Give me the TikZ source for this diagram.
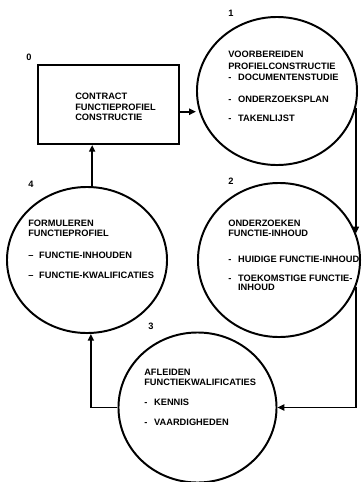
\documentclass[tikz,border=0pt]{standalone}
\usepackage{fontspec}
\setmainfont{Liberation Sans}
\usetikzlibrary{arrows.meta,shapes.geometric}
\newcommand\itm[1]{\makebox[7pt][l]{-}#1}
\newcommand\itmd[1]{\makebox[7.8pt][l]{–}#1}
\begin{document}
\begin{tikzpicture}[x=0.025cm,y=-0.025cm,
  proc/.style={draw, ellipse, line width=1.4pt, inner sep=0pt},
  boxnode/.style={draw, rectangle, line width=1.4pt, inner sep=0pt, minimum width=3.525cm, minimum height=1.975cm},
  txt/.style={anchor=north west, inner sep=0pt, align=left, font=\bfseries\fontsize{6.6}{7.45}\selectfont},
  lbl/.style={inner sep=0pt, font=\bfseries\fontsize{6.6}{7.45}\selectfont},
  arr/.style={line width=1.3pt, -{Triangle[length=4.8pt,width=4.3pt]}}]
\useasboundingbox (0,0) rectangle (362,482);
\fill[white] (0,0) rectangle (362,482);

\node[boxnode] (r0) at (108.5,104.5) {};
\node[txt] (t0) at (75,93) {CONTRACT\\FUNCTIEPROFIEL\\CONSTRUCTIE};

\node[proc, minimum width=4cm, minimum height=3.7cm] (c1) at (277,91) {};
\node[txt] (t1) at (228,51) {VOORBEREIDEN\\[1.07pt]PROFIELCONSTRUCTIE\\[0.36pt]\itm{DOCUMENTENSTUDIE}\\[8.2pt]\itm{ONDERZOEKSPLAN}\\[6pt]\itm{TAKENLIJST}};

\node[proc, minimum width=4.05cm, minimum height=3.85cm] (c2) at (279,260) {};
\node[txt] (t2) at (228,220) {ONDERZOEKEN\\[-0.36pt]FUNCTIE-INHOUD\\[11pt]\itm{HUIDIGE FUNCTIE-INHOUD}\\[6pt]\itm{TOEKOMSTIGE FUNCTIE-}\\[-1.07pt]\hspace*{7pt}INHOUD};

\node[proc, minimum width=4cm, minimum height=3.65cm] (c4) at (87,260) {};
\node[txt] (t4) at (28,220) {FORMULEREN\\[-0.36pt]FUNCTIEPROFIEL\\[8.2pt]\itmd{FUNCTIE-INHOUDEN}\\[6.75pt]\itmd{FUNCTIE-KWALIFICATIES}};

\node[proc, minimum width=3.95cm, minimum height=3.75cm] (c3) at (197.5,407.5) {};
\node[txt] (t3) at (144,369) {AFLEIDEN\\[-0.36pt]FUNCTIEKWALIFICATIES\\[6.75pt]\itm{KENNIS}\\[6.75pt]\itm{VAARDIGHEDEN}};

\node[lbl] (n0) at (29,57) {0};
\node[lbl] (n1) at (231,13) {1};
\node[lbl] (n2) at (231,181) {2};
\node[lbl] (n4) at (31,184) {4};
\node[lbl] (n3) at (151,326) {3};

\coordinate (a0) at ([yshift=-0.18cm]r0.east);
\draw[arr] (a0) -- (a0 -| c1.west);
\draw[arr] (c1.-12) -- (c1.-12 |- c2.19);
\draw[arr] (c2.-19) |- (c3.east);
\draw[arr] (c3.west) -| (c4.-87);
\draw[arr] (c4.86) -- (c4.86 |- r0.south);
\end{tikzpicture}
\end{document}
